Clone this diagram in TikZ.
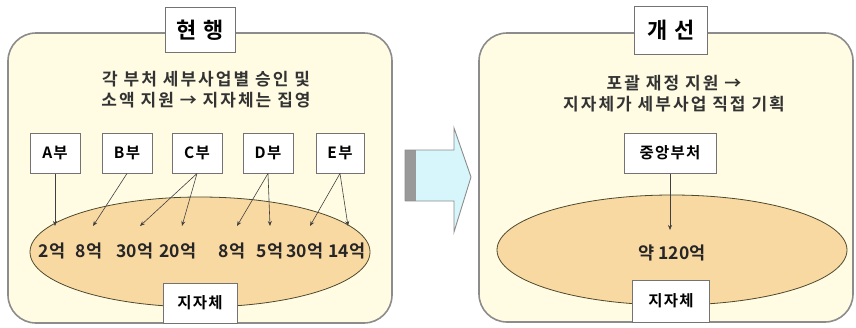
\documentclass[tikz,border=0pt]{standalone}
\usepackage{fontspec}
\newfontfamily\kr{Noto Sans CJK KR}[BoldFont={Noto Sans CJK KR Bold}]
\newfontfamily\krs{Noto Sans CJK KR}[BoldFont={Noto Sans CJK KR Bold},LetterSpace=8]
\newfontfamily\krw{Noto Sans CJK KR}[BoldFont={Noto Sans CJK KR Bold},LetterSpace=12]
\usetikzlibrary{arrows.meta,shapes.geometric}
\definecolor{panelfill}{HTML}{FFFCE3}
\definecolor{ellfill}{HTML}{F9D9A2}
\definecolor{arrfill}{HTML}{D6F6FB}
\tikzset{
  panel/.style={draw=black!45, line width=1.6pt, fill=panelfill, rounded corners=28pt},
  titlebox/.style={draw=black!55, line width=1pt, fill=white, minimum width=70pt, minimum height=45pt, inner sep=0pt, font=\kr\bfseries\fontsize{22}{24}\selectfont},
  unitbox/.style={draw=black!55, line width=1pt, fill=white, minimum height=40pt, inner sep=0pt, font=\krs\bfseries\fontsize{15.5}{17}\selectfont},
  blob/.style={draw=black!60!olive, line width=0.8pt, fill=ellfill, ellipse, inner sep=0pt},
  desc/.style={font=\krw\bfseries\fontsize{17}{21}\selectfont, align=center, text=black!80},
  amt/.style={font=\kr\bfseries\fontsize{17.5}{19}\selectfont, inner sep=0pt, text=black!85},
  link/.style={draw=black!75, line width=0.6pt, -{Stealth[length=5pt,width=4pt]}},
}
\begin{document}
\begin{tikzpicture}[x=1pt,y=-1pt]
\useasboundingbox (0,0) rectangle (856,327);
% left panel
\draw[panel] (8,33) rectangle (392,323);
\node[titlebox] (t1) at (200,30) {현\,\,행};
\node[desc] (d1) at (206,90) {각 부처 세부사업별 승인 및\\소액 지원 → 지자체는 집영};
\node[unitbox, minimum width=50pt] (A) at (55,153) {A부};
\node[unitbox, minimum width=50pt] (B) at (127,153) {B부};
\node[unitbox, minimum width=50pt] (C) at (197,153) {C부};
\node[unitbox, minimum width=50pt] (D) at (268,153) {D부};
\node[unitbox, minimum width=48pt] (E) at (340,153) {E부};
\node[blob, minimum width=340pt, minimum height=110pt] (e1) at (200,252) {};
\node[amt] (a1) at (52,251) {2억};
\node[amt] (a2) at (89,251) {8억};
\node[amt] (a3) at (135,251) {30억};
\node[amt] (a4) at (178,251) {20억};
\node[amt] (a5) at (232,251) {8억};
\node[amt] (a6) at (270,251) {5억};
\node[amt] (a7) at (305,251) {30억};
\node[amt] (a8) at (347,251) {14억};
\coordinate (p1) at (55,226);
\coordinate (p2) at (93,226);
\coordinate (p3) at (140,226);
\coordinate (p4) at (182,226);
\coordinate (p5) at (237,226);
\coordinate (p6) at (270,226);
\coordinate (p7) at (310,226);
\coordinate (p8) at (348,226);
\draw[link] (A.south) -- (p1);
\draw[link] (B.south) -- (p2);
\draw[link] (C.south) -- (p3);
\draw[link] (C.south) -- (p4);
\draw[link] (D.south) -- (p5);
\draw[link] (D.south) -- (p6);
\draw[link] (E.south) -- (p7);
\draw[link] (E.south) -- (p8);
\node[unitbox, minimum width=74pt] (j1) at (200,303) {지자체};
% block arrow
\fill[arrfill] (405,150) -- (454,150) -- (454,128) -- (471,177) -- (454,232) -- (454,201) -- (405,201) -- cycle;
\fill[black!40] (405,150) rectangle (416,201);
\draw[black!45, line width=0.9pt] (405,201) -- (405,150) -- (454,150) -- (454,128) -- (471,177) -- (454,232) -- (454,201) -- (405,201);
% right panel
\draw[panel] (479,33) rectangle (853,322);
\node[titlebox, minimum width=73pt, minimum height=48pt] (t2) at (671,30) {개\,\,선};
\node[desc] (d2) at (674,94) {포괄 재정 지원 →\\지자체가 세부사업 직접 기획};
\node[unitbox, minimum width=92pt] (cb) at (670,153) {중앙부처};
\node[blob, minimum width=350pt, minimum height=110pt] (e2) at (672,250) {};
\node[amt] (a9) at (672,253) {약 120억};
\coordinate (p9) at (670,230);
\draw[link] (cb.south) -- (p9);
\node[unitbox, minimum width=77pt, minimum height=42pt] (j2) at (671,301) {지자체};
\end{tikzpicture}
\end{document}
